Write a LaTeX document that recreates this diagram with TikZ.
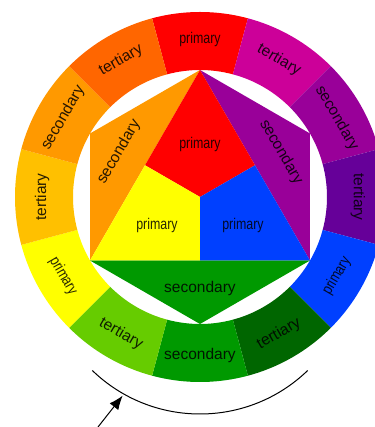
\documentclass[tikz,border=0pt]{standalone}
\usepackage{fontspec}
\setmainfont{Liberation Sans}
\usepackage{tikz}
\usetikzlibrary{calc,arrows.meta}
\definecolor{wRed}{HTML}{FF0000}
\definecolor{wRedViolet}{HTML}{CC0099}
\definecolor{wViolet}{HTML}{990099}
\definecolor{wBlueViolet}{HTML}{660099}
\definecolor{wBlue}{HTML}{0040FF}
\definecolor{wBlueGreen}{HTML}{006600}
\definecolor{wGreen}{HTML}{009900}
\definecolor{wYellowGreen}{HTML}{66CC00}
\definecolor{wYellow}{HTML}{FFFF00}
\definecolor{wYellowOrange}{HTML}{FFC000}
\definecolor{wOrange}{HTML}{FF9900}
\definecolor{wRedOrange}{HTML}{FF6600}
\tikzstyle{lbl}  = [font=\fontsize{15.5}{17}\selectfont, text=black,
                    text opacity=0.85, inner sep=0pt]
\tikzstyle{prim} = [lbl, xscale=0.8]
\tikzstyle{ptr}  = [draw, -{Latex[length=14pt,width=11pt]}, line width=1pt]
\newcommand{\ringpart}[2]{
  \fill[#2] ({#1-15}:185) arc[start angle={#1-15}, end angle={#1+15}, radius=185]
    -- ({#1+15}:127) arc[start angle={#1+15}, end angle={#1-15}, radius=127] -- cycle;
}
\begin{document}
\begin{tikzpicture}[x=1pt, y=1pt]
		\useasboundingbox (-200,-230) rectangle (174,197);

		% outer ring
		\ringpart{90}{wRed}
		\ringpart{60}{wRedViolet}
		\ringpart{30}{wViolet}
		\ringpart{0}{wBlueViolet}
		\ringpart{-30}{wBlue}
		\ringpart{-60}{wBlueGreen}
		\ringpart{-90}{wGreen}
		\ringpart{-120}{wYellowGreen}
		\ringpart{-150}{wYellow}
		\ringpart{180}{wYellowOrange}
		\ringpart{150}{wOrange}
		\ringpart{120}{wRedOrange}

		\node[prim] (rP) at (90:158) {primary};
		\node[lbl, rotate=-30] (rvT) at (60:158) {tertiary};
		\node[lbl, rotate=-60] (vS) at (30:158) {secondary};
		\node[lbl, rotate=-90] (bvT) at (0:158) {tertiary};
		\node[rotate=60, prim] (bP) at (-30:158) {primary};
		\node[lbl, rotate=30] (bgT) at (-60:158) {tertiary};
		\node[lbl] (gS) at (-90:158) {secondary};
		\node[lbl, rotate=-30] (ygT) at (-120:158) {tertiary};
		\node[rotate=-60, prim] (yP) at (-150:158) {primary};
		\node[lbl, rotate=90] (yoT) at (180:158) {tertiary};
		\node[lbl, rotate=60] (oS) at (150:158) {secondary};
		\node[lbl, rotate=30] (roT) at (120:158) {tertiary};

		% inner hexagon
		\coordinate (O) at (0,0);
		\coordinate (T) at (90:127);
		\coordinate (UR) at (30:127);
		\coordinate (LR) at (-30:127);
		\coordinate (B) at (-90:127);
		\coordinate (LL) at (-150:127);
		\coordinate (UL) at (150:127);
		\coordinate (ML) at ($(T)!0.5!(LL)$);
		\coordinate (MR) at ($(T)!0.5!(LR)$);
		\coordinate (MB) at ($(LL)!0.5!(LR)$);

		\fill[wOrange] (T) -- (UL) -- (LL) -- cycle;
		\fill[wViolet] (T) -- (UR) -- (LR) -- cycle;
		\fill[wGreen] (LL) -- (B) -- (LR) -- cycle;
		\fill[wRed] (T) -- (ML) -- (O) -- (MR) -- cycle;
		\fill[wYellow] (LL) -- (ML) -- (O) -- (MB) -- cycle;
		\fill[wBlue] (LR) -- (MR) -- (O) -- (MB) -- cycle;

		\node[prim] (redP) at (0,53) {primary};
		\node[prim] (yellowP) at (-43,-28) {primary};
		\node[prim] (blueP) at (43,-28) {primary};
		\node[lbl, rotate=60] (orangeS) at (-81,45) {secondary};
		\node[lbl, rotate=-60] (violetS) at (81,45) {secondary};
		\node[lbl] (greenS) at (0,-91) {secondary};

		% arc and arrow
		\coordinate (arcO) at (0,-62);
		\coordinate (arcL) at ($(arcO)+(-134:155)$);
		\coordinate (tip) at ($(arcO)+(-119.5:157)$);
		\coordinate (tail) at (-102,-230);
		\draw[line width=1pt] (arcL) arc[start angle=-134, end angle=-46, radius=155];
		\draw[ptr] (tail) -- (tip);
	\end{tikzpicture}
\end{document}
